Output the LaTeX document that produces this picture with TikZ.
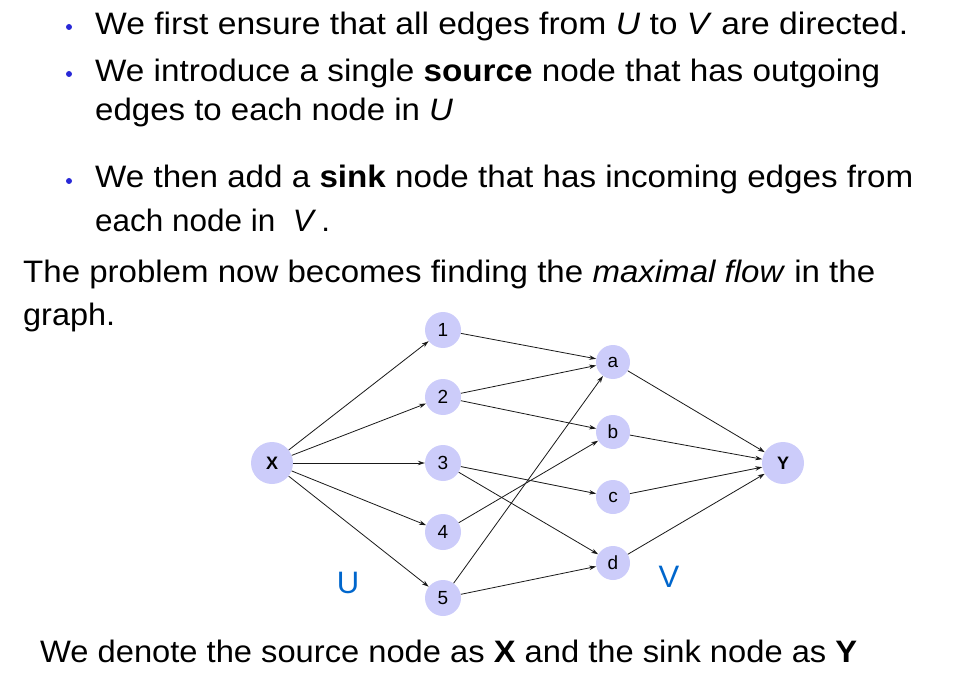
\documentclass[tikz,border=0pt]{standalone}
\usepackage{fontspec}
\setmainfont{Liberation Sans}
\usepackage{graphicx}
\usetikzlibrary{arrows.meta}
\definecolor{nodefill}{RGB}{204,204,250}
\definecolor{bulletblue}{RGB}{40,40,215}
\definecolor{setblue}{RGB}{0,102,204}
\newcommand{\fitline}[2]{\resizebox{#1}{\height}{#2}}
\newcommand{\lbl}[1]{\fontsize{19pt}{19pt}\selectfont #1}
\newcommand{\blbl}[1]{\fontsize{18pt}{18pt}\selectfont\bfseries #1}
\tikzset{
  txt/.style={anchor=base west, inner sep=0pt, font=\fontsize{31}{31}\selectfont},
  bul/.style={circle, fill=bulletblue, inner sep=0pt, minimum size=6pt},
  big/.style={circle, fill=nodefill, inner sep=0pt, minimum size=42pt},
  uvert/.style={circle, fill=nodefill, inner sep=0pt, minimum size=36pt},
  vvert/.style={circle, fill=nodefill, inner sep=0pt, minimum size=34pt},
  conn/.style={draw=black!90, line width=0.8pt, -{Stealth[length=7pt,width=4.5pt]}},
  setlbl/.style={text=setblue, inner sep=0pt, font=\fontsize{31}{31}\selectfont},
}
\begin{document}
\begin{tikzpicture}[x=1pt,y=-1pt]
\useasboundingbox (0,0) rectangle (956,679);
% text
\node[bul] (b1) at (69,27) {};
\node[bul] (b2) at (69,74) {};
\node[bul] (b3) at (69,181) {};
\node[txt] (t1) at (95,35) {\fitline{813pt}{We first ensure that all edges from \textit{U} to \textit{V} are directed.}};
\node[txt] (t2) at (95,82) {\fitline{785pt}{We introduce a single \textbf{source} node that has outgoing}};
\node[txt] (t3) at (95,121) {\fitline{358pt}{edges to each node in \textit{U}}};
\node[txt] (t4) at (95,188) {\fitline{818pt}{We then add a \textbf{sink} node that has incoming edges from}};
\node[txt] (t5) at (95,232) {\fitline{235pt}{each node in \ \textit{V}\,.}};
\node[txt] (t6) at (23,282) {\fitline{852pt}{The problem now becomes finding the \textit{maximal flow} in the}};
\node[txt] (t7) at (23,325) {\fitline{92pt}{graph.}};
\node[txt] (t8) at (40,662) {\fitline{817pt}{We denote the source node as \textbf{X} and the sink node as \textbf{Y}}};
% graph
\node[big] (X) at (272,463) {\blbl{X}};
\node[big] (Y) at (783,463) {\blbl{Y}};
\node[uvert] (n1) at (443,330) {\lbl{1}};
\node[uvert] (n2) at (443,397) {\lbl{2}};
\node[uvert] (n3) at (443,463) {\lbl{3}};
\node[uvert] (n4) at (443,532) {\lbl{4}};
\node[uvert] (n5) at (443,598) {\lbl{5}};
\node[vvert] (a) at (613,362) {\lbl{a}};
\node[vvert] (b) at (613,432) {\lbl{b}};
\node[vvert] (c) at (613,497) {\lbl{c}};
\node[vvert] (d) at (613,563) {\lbl{d}};
\node[setlbl] (U) at (348,583) {U};
\node[setlbl] (V) at (669,577) {V};
\foreach \n in {n1,n2,n3,n4,n5} \draw[conn] (X) -- (\n);
\draw[conn] (n1) -- (a);
\draw[conn] (n2) -- (a);
\draw[conn] (n2) -- (b);
\draw[conn] (n3) -- (c);
\draw[conn] (n3) -- (d);
\draw[conn] (n4) -- (b);
\draw[conn] (n5) -- (a);
\draw[conn] (n5) -- (d);
\foreach \n in {a,b,c,d} \draw[conn] (\n) -- (Y);
\end{tikzpicture}
\end{document}
